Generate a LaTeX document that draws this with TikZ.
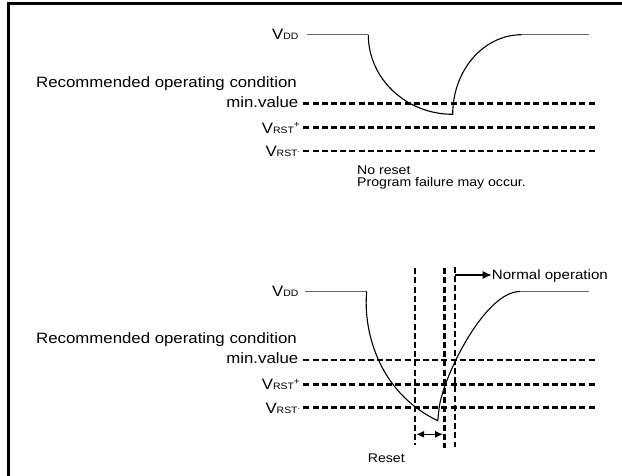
\documentclass[tikz,border=0pt]{standalone}
\usepackage{fontspec}
\setmainfont{Liberation Sans}[FakeStretch=1.12]
\usetikzlibrary{arrows.meta}
\newcommand\myVdd{V{\fontsize{9.3}{9.3}\selectfont DD}}
\newcommand\myVp{V{\fontsize{9.3}{9.3}\selectfont RST}\raisebox{5.5pt}{\fontsize{9}{9}\selectfont +}}
\newcommand\myVm{V{\fontsize{9.3}{9.3}\selectfont RST}\raisebox{2.7pt}{\fontsize{6}{6}\selectfont -}}
\begin{document}
\begin{tikzpicture}[x=1pt,y=-1pt,
  lbl/.style={inner sep=0pt, font=\fontsize{15}{15}\selectfont},
  nrm/.style={inner sep=0pt, font=\fontsize{13.5}{13.5}\selectfont},
  sml/.style={inner sep=0pt, font=\fontsize{12.6}{12.6}\selectfont},
  lvl/.style={line width=2.6pt, dash pattern=on 6pt off 3.2pt},
  vdl/.style={line width=2.5pt, dash pattern=on 6pt off 3.2pt},
  supply/.style={line width=1.4pt, black!60},
  wave/.style={line width=1.1pt, black},
  frame/.style={line width=3pt, black},
  arr/.style={line width=1.3pt}]
\useasboundingbox (0,0) rectangle (622,476);
% frame
\coordinate (fA) at (622,3.7);
\coordinate (fB) at (8.5,476);
\draw[frame] (fA) -| (fB);

% ---------- top diagram ----------
\node[lbl, anchor=base east] (vddA) at (298.5,39.5) {\myVdd};
\node[lbl, anchor=base east] (recA) at (297,87.1) {Recommended operating condition};
\node[lbl, anchor=base east] (minA) at (298.5,107.3) {min.value};
\node[lbl, anchor=base east] (rpA) at (300,133.3) {\myVp};
\node[lbl, anchor=base east] (rmA) at (300,156.7) {\myVm};

\coordinate (mA1) at (303.3,103.3); \coordinate (mA2) at (596.7,103.3);
\coordinate (pA1) at (303.3,127.7); \coordinate (pA2) at (596.7,127.7);
\coordinate (nA1) at (303.3,151);   \coordinate (nA2) at (596.7,151);
\draw[lvl] (mA1) -- (mA2);
\draw[lvl] (pA1) -- (pA2);
\draw[lvl] (nA1) -- (nA2);

\coordinate (sA0) at (307.3,34.7);
\coordinate (sA1) at (368.3,34.7);
\coordinate (sA2) at (452.7,114.3);
\coordinate (sA3) at (521.7,34.7);
\coordinate (sA4) at (589.3,34.7);
\draw[supply] (sA0) -- (sA1);
\draw[supply] (sA3) -- (sA4);
\draw[wave] (sA1) .. controls (368.3,78.7) and (406.1,114.3) .. (sA2)
  .. controls (452.7,70.3) and (483.6,34.7) .. (sA3);

\node[sml, anchor=base west] (noreset) at (357,174.9) {No reset};
\node[sml, anchor=base west] (pfail) at (357,186.4) {Program failure may occur.};

% ---------- bottom diagram ----------
\node[lbl, anchor=base east] (vddB) at (298.5,296) {\myVdd};
\node[lbl, anchor=base east] (recB) at (297,343.6) {Recommended operating condition};
\node[lbl, anchor=base east] (minB) at (298.5,363.8) {min.value};
\node[lbl, anchor=base east] (rpB) at (300,389.8) {\myVp};
\node[lbl, anchor=base east] (rmB) at (300,413.2) {\myVm};

\coordinate (mB1) at (303.3,360); \coordinate (mB2) at (596.7,360);
\coordinate (pB1) at (303.3,384.2); \coordinate (pB2) at (596.7,384.2);
\coordinate (nB1) at (303.3,407.6); \coordinate (nB2) at (596.7,407.6);
\draw[lvl] (mB1) -- (mB2);
\draw[lvl] (pB1) -- (pB2);
\draw[lvl] (nB1) -- (nB2);

\coordinate (v1a) at (415,268.3);   \coordinate (v1b) at (415,445);
\coordinate (v2a) at (444.3,268.3); \coordinate (v2b) at (444.3,448.3);
\coordinate (v3a) at (455,266.7);   \coordinate (v3b) at (455,446.7);
\draw[vdl] (v1a) -- (v1b);
\draw[vdl] (v2a) -- (v2b);
\draw[vdl] (v3a) -- (v3b);

\coordinate (sB0) at (305,291.5);
\coordinate (sB1) at (366.7,291.5);
\coordinate (sB2) at (437.7,420.7);
\coordinate (sB3) at (439.3,406.7);
\coordinate (sB4) at (520,291.5);
\coordinate (sB5) at (589,291.5);
\draw[supply] (sB0) -- (sB1);
\draw[supply] (sB4) -- (sB5);
\draw[wave] (sB1) .. controls (363,330) and (378,392) .. (sB2)
  -- (sB3) .. controls (444,375) and (485,291.5) .. (sB4);

\coordinate (aS) at (455,275);
\node[nrm, anchor=base west] (normal) at (491.7,279.8) {Normal operation};
\draw[arr, -{Latex[length=9pt,width=8pt]}] (aS) -- (normal.west |- aS);

\coordinate (rA) at (416.2,434.3);
\coordinate (rB) at (443.1,434.3);
\draw[arr, {Latex[length=8pt,width=7pt]}-{Latex[length=8pt,width=7pt]}] (rA) -- (rB);
\node[sml, anchor=base west] (reset) at (367.7,462.5) {Reset};
\end{tikzpicture}
\end{document}
